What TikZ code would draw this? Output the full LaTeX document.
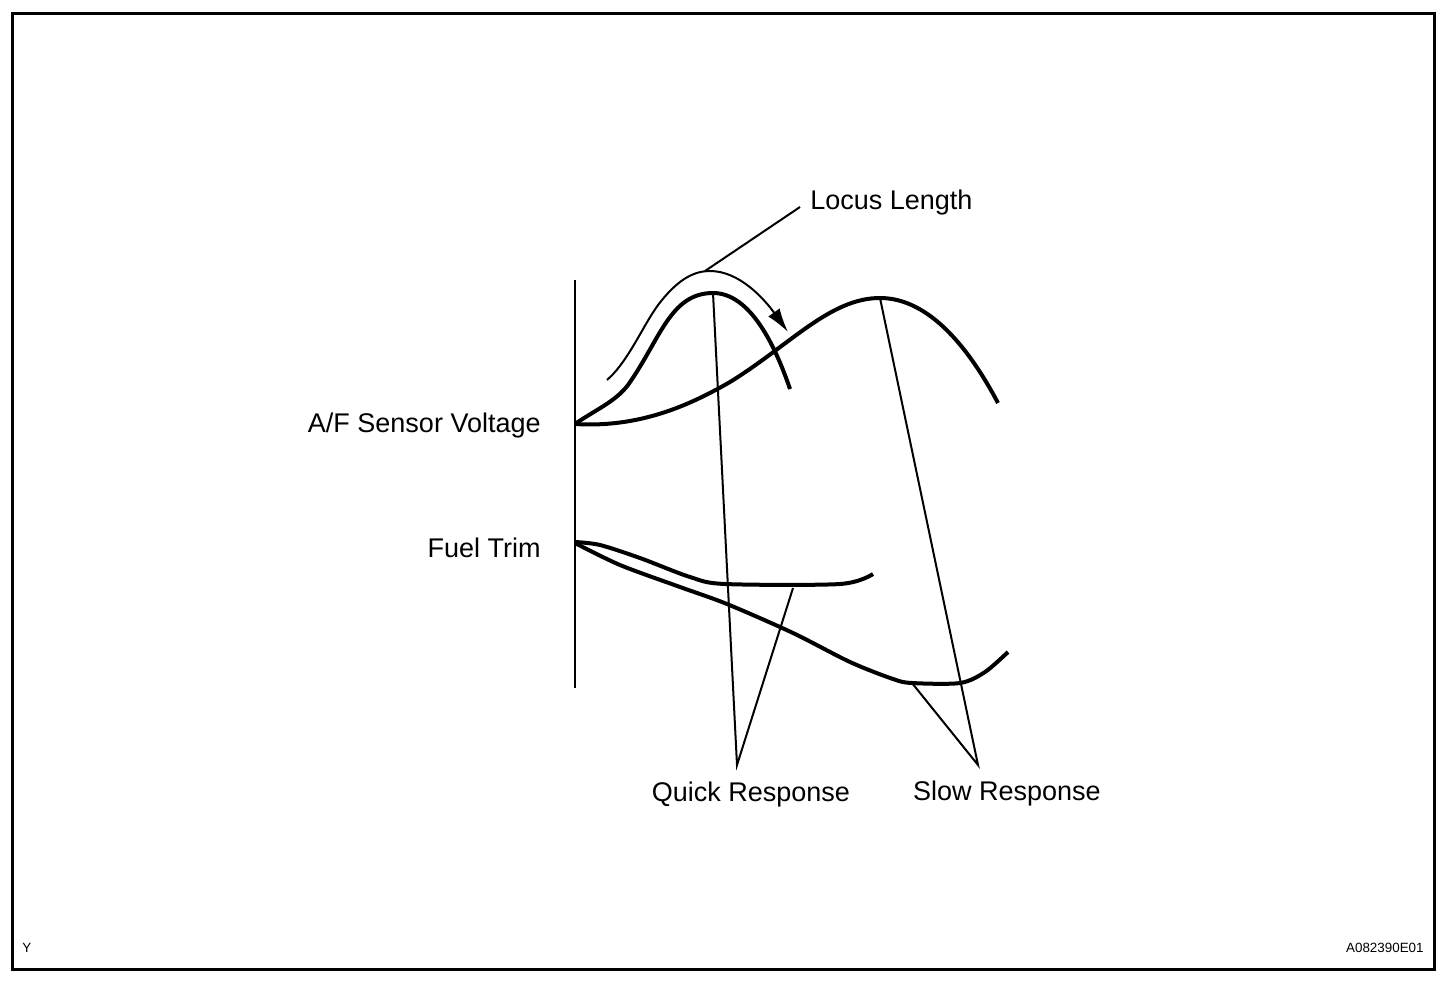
\documentclass[tikz,border=0pt]{standalone}
\usepackage{fontspec}
\setmainfont{Liberation Sans}
\usetikzlibrary{arrows.meta,positioning}

\begin{document}
\begin{tikzpicture}[
      x=0.5pt, y=-0.5pt,
      every node/.style={font=\fontsize{13.5}{16}\selectfont, inner sep=0pt},
      curve/.style={line width=2pt, line join=round},
      leader/.style={line width=1pt},
      tag/.style={font=\fontsize{6.7}{8}\selectfont}
    ]

    \useasboundingbox (0,0) rectangle (1456,986);

    % Frame
    \draw[line width=1.5pt] (12,13) rectangle (1434,969);

    % Axis
    \draw[line width=0.7pt] (575,280) -- (575,688);

    % Labels
    \node[anchor=base east] (afs) at (541,432) {A/F Sensor Voltage};
    \node[anchor=base east] (fuel) at (541,557) {Fuel Trim};
    \node[anchor=base west] (locus) at (810,209) {Locus Length};
    \node[anchor=base] (quick) at (751,801) {Quick Response};
    \node[anchor=base] (slow) at (1007,800) {Slow Response};
    \node[tag, anchor=base west] (ymark) at (22,952) {Y};
    \node[tag, anchor=base east] (code) at (1424,952) {A082390E01};

    % Key points
    \coordinate (qpeak) at (713,293);
    \coordinate (speak) at (880,298);
    \coordinate (qflat) at (793,588);
    \coordinate (sflat) at (912,683);
    \coordinate (ltop) at (705,271);
    \coordinate (lend) at (800,207);
    \coordinate (qtip) at (737,765);
    \coordinate (stip) at (978,765);

    % A/F sensor voltage, quick
    \draw[curve] (575,424) .. controls (595,410) and (615,402) .. (628,385)
      .. controls (660,340) and (670,293) .. (qpeak)
      .. controls (750,293) and (775,345) .. (790,389);
    % A/F sensor voltage, slow
    \draw[curve] (575,424) .. controls (640,428) and (690,405) .. (730,382)
      .. controls (790,345) and (830,298) .. (speak)
      .. controls (930,298) and (970,350) .. (998,403);

    % Locus arrow
    \draw[leader, -{Latex[length=12pt, width=7pt]}] (607,380) .. controls (630,360) and (645,320) .. (662,300)
      .. controls (680,278) and (695,271) .. (710,271)
      .. controls (740,271) and (765,300) .. (788,332);

    % Fuel trim, quick
    \draw[curve] plot[smooth, tension=0.5] coordinates {(575,542) (600,545) (640,558) (690,577) (725,584) (840,584) (873,574)};
    % Fuel trim, slow
    \draw[curve] plot[smooth, tension=0.5] coordinates {(575,543) (620,565) (680,587) (727,604) (793,633) (850,662) (893,679) (912,683) (960,683) (985,672) (1008,652)};

    % Leaders
    \draw[leader] (ltop) -- (lend);
    \draw[leader] (qpeak) -- (qtip) -- (qflat);
    \draw[leader] (speak) -- (stip) -- (sflat);

  \end{tikzpicture}
\end{document}
